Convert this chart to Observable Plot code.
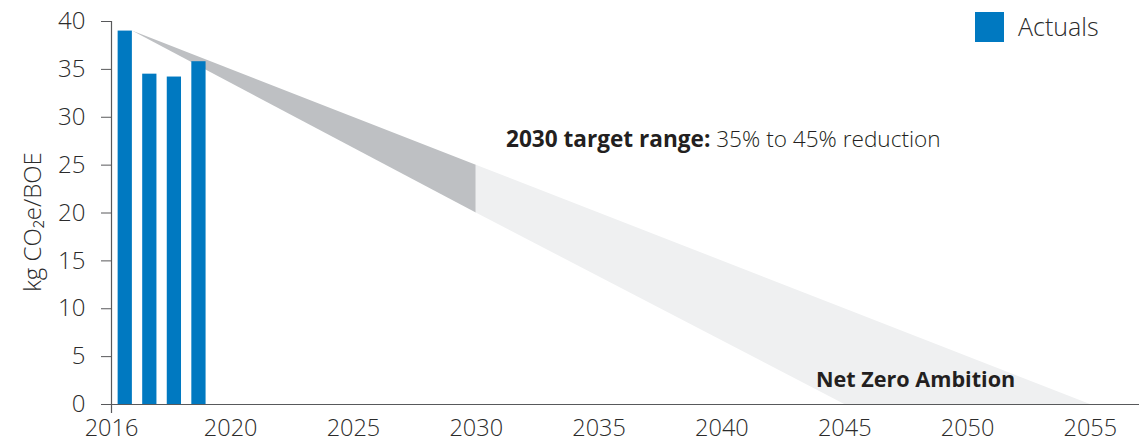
<!DOCTYPE html>
<html>
<head>
<meta charset="utf-8">
<script src="https://cdn.jsdelivr.net/npm/d3@7"></script>
<script src="https://cdn.jsdelivr.net/npm/@observablehq/plot@0.6"></script>
<style>
  html, body { margin: 0; padding: 0; background: #fff; }
  #chart { width: 1139px; height: 443px; }
  svg text { font-family: "Open Sans", "Noto Sans", sans-serif; }
</style>
</head>
<body>
<div id="chart"></div>
<script>
// ---- data ----
const actualYears = [2016, 2017, 2018, 2019];
const actualValues = [39.0, 34.5, 34.2, 35.8];

// 2030 target range (dark band): upper = 35% reduction, lower = 45% reduction
const targetYears = [2016, 2030];
const targetUpper = [39.0, 25.0];
const targetLower = [39.0, 20.0];

// Net zero ambition (light band)
const ambitionYears = [2030, 2045, 2055];
const ambitionUpper = [25.0, 10.0, 0.0];
const ambitionLower = [20.0, 0.0, 0.0];

const yTicks = [0, 5, 10, 15, 20, 25, 30, 35, 40];
const xTickYears = [2016, 2020, 2025, 2030, 2035, 2040, 2045, 2050, 2055];
const xTickLabels = ["2016", "2020", "2025", "2030", "2035", "2040", "2045", "2050", "2055"];

const yLabel = "kg CO₂e/BOE";
const legendLabel = "Actuals";
const targetBold = "2030 target range:";
const targetLight = " 35% to 45% reduction";
const netZeroLabel = "Net Zero Ambition";

// ---- tables ----
const actuals = actualYears.map((year, i) => ({year, value: actualValues[i]}));
const target = targetYears.map((x, i) => ({x, y1: targetLower[i], y2: targetUpper[i]}));
const ambition = ambitionYears.map((x, i) => ({x, y1: ambitionLower[i], y2: ambitionUpper[i]}));

const xMin = 2015.15, xMax = 2057.0;
// first tick label sits at the axis origin
const xTickPos = xTickYears.map((y, i) => i === 0 ? xMin : y);
const tickLabelOf = new Map(xTickPos.map((p, i) => [p, xTickLabels[i]]));

const blue = "#0079C1";
const axisColor = "#58595B";
const textColor = "#2B2B2B";

const plot = Plot.plot({
  width: 1139,
  height: 443,
  marginLeft: 111,
  marginRight: 0,
  marginTop: 21,
  marginBottom: 39,
  style: {fontFamily: '"Open Sans", "Noto Sans", sans-serif', color: textColor, background: "#fff"},
  x: {domain: [xMin, xMax]},
  y: {domain: [0, 40]},
  marks: [
    Plot.areaY(target, {x: "x", y1: "y1", y2: "y2", fill: "#BEC0C3"}),
    Plot.areaY(ambition, {x: "x", y1: "y1", y2: "y2", fill: "#EFF0F1"}),
    Plot.rectY(actuals, {x1: d => d.year - 0.58, x2: d => d.year, y1: 0, y2: "value", fill: blue}),
    Plot.axisY({ticks: yTicks, tickSize: 10, tickPadding: 16, fontSize: 24, fontWeight: 300, stroke: axisColor, label: null, tickFormat: d => String(d)}),
    Plot.axisX({ticks: xTickPos, tickSize: 0, tickPadding: 15, fontSize: 23.5, fontWeight: 300, label: null, tickFormat: d => tickLabelOf.get(d)}),
    Plot.ruleX([xMin], {stroke: axisColor, strokeWidth: 1.2, insetBottom: -9}),
    Plot.ruleY([0], {stroke: axisColor, strokeWidth: 1.2, insetLeft: -10})
  ]
});

document.getElementById("chart").appendChild(plot);

const svg = d3.select(plot);

// y axis title
svg.append("text")
  .attr("transform", `translate(41,222) rotate(-90)`)
  .attr("text-anchor", "middle")
  .attr("fill", textColor)
  .style("font-size", "24px")
  .style("font-weight", 300)
  .text(yLabel);

// target annotation
const t = svg.append("text")
  .attr("x", 506).attr("y", 147)
  .attr("text-anchor", "start")
  .attr("fill", "#231F20")
  .style("font-size", "22.6px");
t.append("tspan").style("font-weight", 700).text(targetBold);
t.append("tspan").style("font-weight", 300).text(targetLight);

// net zero annotation
svg.append("text")
  .attr("x", 816).attr("y", 387)
  .attr("text-anchor", "start")
  .attr("fill", "#231F20")
  .style("font-size", "21.6px")
  .style("font-weight", 700)
  .text(netZeroLabel);

// legend
svg.append("rect").attr("x", 975).attr("y", 12).attr("width", 29).attr("height", 30).attr("fill", blue);
svg.append("text")
  .attr("x", 1018).attr("y", 36)
  .attr("text-anchor", "start")
  .attr("fill", textColor)
  .style("font-size", "25px")
  .style("font-weight", 300)
  .text(legendLabel);
</script>
</body>
</html>
